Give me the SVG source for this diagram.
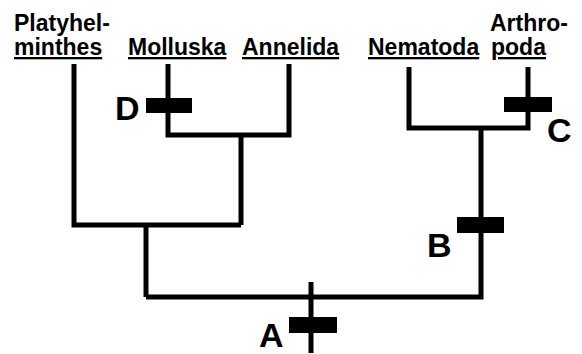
<svg xmlns="http://www.w3.org/2000/svg" width="582" height="354" viewBox="0 0 582 354">
<style>
.br{fill:none;stroke:#000;stroke-width:5;stroke-linejoin:miter;stroke-linecap:butt}
.tx{font-family:"Liberation Sans",Arial,sans-serif;font-weight:bold;font-size:23px;fill:#000}
.u{text-decoration:underline;text-decoration-thickness:2.5px;text-underline-offset:3px}
.lb{font-family:"Liberation Sans",Arial,sans-serif;font-weight:bold;font-size:34px;fill:#000}
.bar{fill:#000}
</style>
<rect width="582" height="354" fill="#fff"/>
<g id="connectors">
<polyline class="br" points="74,64 74,225 241,225"/>
<polyline class="br" points="168,64 168,135 289,135 289,64"/>
<polyline class="br" points="241,135 241,225"/>
<polyline class="br" points="146,225 146,297"/>
<polyline class="br" points="146,297 481,297 481,128"/>
<polyline class="br" points="409,67 409,128 528,128 528,67"/>
<polyline class="br" points="311,282 311,353"/>
</g>
<g id="platyhelminthes">
<text class="tx" x="14" y="31">Platyhel-</text>
<text class="tx u" x="14" y="55">minthes</text>
</g>
<g id="molluska"><text class="tx u" x="128" y="55">Molluska</text></g>
<g id="annelida"><text class="tx u" x="242" y="55">Annelida</text></g>
<g id="nematoda"><text class="tx u" x="368" y="55">Nematoda</text></g>
<g id="arthropoda">
<text class="tx" x="490" y="31">Arthro-</text>
<text class="tx u" x="491" y="55">poda</text>
</g>
<g id="markA"><rect class="bar" x="289" y="317" width="48" height="16"/><text class="lb" x="259" y="347" font-size="33">A</text></g>
<g id="markB"><rect class="bar" x="457" y="217" width="47" height="16"/><text class="lb" x="427" y="257">B</text></g>
<g id="markC"><rect class="bar" x="504" y="97" width="48" height="15"/><text class="lb" x="547" y="142">C</text></g>
<g id="markD"><rect class="bar" x="146" y="98" width="46" height="15"/><text class="lb" x="115" y="120">D</text></g>
</svg>
